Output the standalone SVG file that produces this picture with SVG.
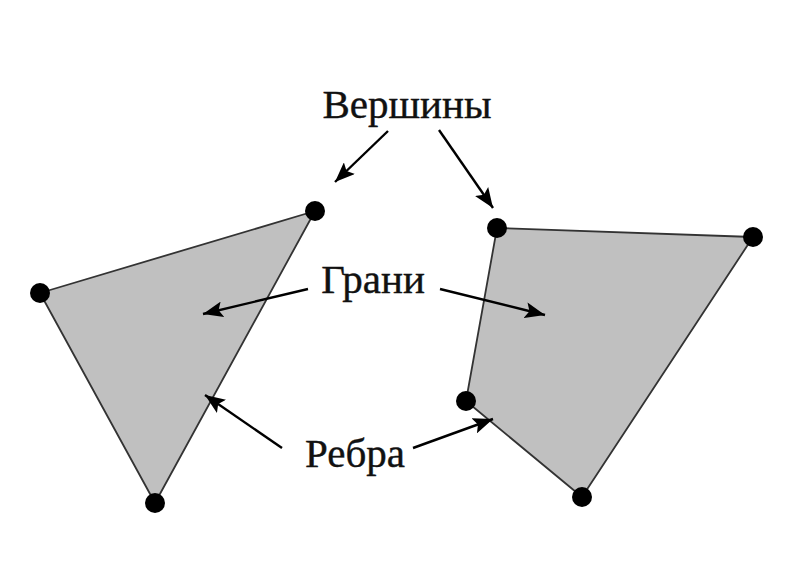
<svg xmlns="http://www.w3.org/2000/svg" width="800" height="585" viewBox="0 0 800 585">
<defs>
<marker id="ah" markerUnits="userSpaceOnUse" markerWidth="22" markerHeight="16" refX="20" refY="8" orient="auto">
<path d="M0,0 L20,8 L0,16 L4,8 Z" fill="#000"/>
</marker>
<style>
.face{fill:#c0c0c0;stroke:#333;stroke-width:1.8;stroke-linejoin:round}
.v{fill:#000}
.lbl{font-family:"Liberation Serif","Times New Roman",serif;font-size:41px;fill:#111;stroke:#111;stroke-width:0.4;text-anchor:middle}
.arr{stroke:#000;stroke-width:2.4;fill:none;marker-end:url(#ah)}
</style>
</defs>
<rect width="800" height="585" fill="#fff"/>
<g id="polyLeft">
<polygon class="face" points="40,293 315,211 155,503"/>
<circle class="v" cx="40" cy="293" r="10"/>
<circle class="v" cx="315" cy="211" r="10"/>
<circle class="v" cx="155" cy="503" r="10"/>
</g>
<g id="polyRight">
<polygon class="face" points="497,228 753,237 582,497 466,401"/>
<circle class="v" cx="497" cy="228" r="10"/>
<circle class="v" cx="753" cy="237" r="10"/>
<circle class="v" cx="582" cy="497" r="10"/>
<circle class="v" cx="466" cy="401" r="10"/>
</g>
<g id="connectors">
<line class="arr" x1="388" y1="131" x2="335" y2="182"/>
<line class="arr" x1="439" y1="130" x2="493" y2="208"/>
<line class="arr" x1="308" y1="289" x2="203" y2="314"/>
<line class="arr" x1="440" y1="289" x2="545" y2="315"/>
<line class="arr" x1="282" y1="448" x2="205" y2="395"/>
<line class="arr" x1="413" y1="448" x2="493" y2="419"/>
</g>
<g id="labelVertices"><text class="lbl" x="407" y="118">Вершины</text></g>
<g id="labelFaces"><text class="lbl" x="373" y="293">Грани</text></g>
<g id="labelEdges"><text class="lbl" x="355" y="467">Ребра</text></g>
</svg>
